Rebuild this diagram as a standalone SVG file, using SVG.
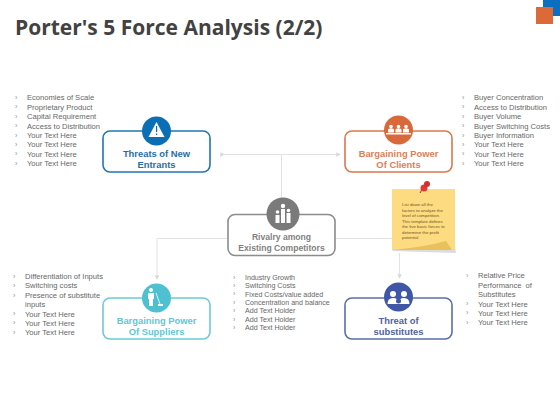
<svg xmlns="http://www.w3.org/2000/svg" width="560" height="420" viewBox="0 0 560 420">
<style>
text{font-family:"Liberation Sans",Arial,sans-serif}
.title{font-family:"Open Sans","Liberation Sans",sans-serif;font-size:21px;font-weight:700;fill:#404040;opacity:.99}
.list{font-size:7.600px;fill:#666;opacity:.99}
.bul{font-size:7px;fill:#8c8c8c;opacity:.99}
.lab{font-size:9.400px;font-weight:700;text-anchor:middle;opacity:.99}
.box{fill:#fff;stroke-width:1.6}
.conn{fill:none;stroke:#e2e2e2;stroke-width:1}
.ic{fill:#fff}
</style>
<defs>
<marker id="a" viewBox="0 0 6 6" refX="5" refY="3" markerWidth="4.500" markerHeight="4.500" orient="auto"><path d="M0 0L6 3L0 6z" fill="#d8d8d8"/></marker>
</defs>
<rect width="560" height="420" fill="#fff"/>
<rect x="543" y="0" width="17" height="16" fill="#0b6fc0"/>
<rect x="536" y="7" width="17" height="17" fill="#dc6a39"/>
<text x="15" y="34.500" class="title">Porter's 5 Force Analysis (2/2)</text>
<g id="connectors">
<path class="conn" marker-start="url(#a)" marker-end="url(#a)" d="M224 154.500H340"/>
<path class="conn" d="M281.500 155V198"/>
<path class="conn" marker-end="url(#a)" d="M227 238.500H157V279"/>
<path class="conn" d="M336 238.500H392"/>
<path class="conn" marker-end="url(#a)" d="M399.500 253V278"/>
</g>
<g id="threats">
<rect class="box" x="103" y="131" width="107" height="41" rx="7" stroke="#1f77b4"/>
<circle cx="156.500" cy="131" r="14.500" fill="#0b6fb8"/>
<path class="ic" d="M156.500 122L164.500 137H148.500z"/>
<rect x="156" y="126" width="1.200" height="6" fill="#0b6fb8"/><rect x="156" y="133.500" width="1.200" height="1.500" fill="#0b6fb8"/>
<text class="lab" fill="#1f6ea8" x="156.500" y="157">Threats of New</text>
<text class="lab" fill="#1f6ea8" x="156.500" y="168">Entrants</text>
</g>
<g id="clients">
<rect class="box" x="345" y="131" width="107" height="41" rx="7" stroke="#d9784e"/>
<circle cx="398.500" cy="130" r="14.500" fill="#d9693a"/>
<path class="ic" d="M386 133h25v1.500h-25z"/>
<circle class="ic" cx="391" cy="126.500" r="1.800"/><circle class="ic" cx="398.500" cy="126.500" r="1.800"/><circle class="ic" cx="406" cy="126.500" r="1.800"/>
<path class="ic" d="M388 132.500v-2.500q0-1.800 3-1.800t3 1.800v2.500zM395.500 132.500v-2.500q0-1.800 3-1.800t3 1.800v2.500zM403 132.500v-2.500q0-1.800 3-1.800t3 1.800v2.500z"/>
<text class="lab" fill="#dc7e55" x="398.500" y="157">Bargaining Power</text>
<text class="lab" fill="#dc7e55" x="398.500" y="168">Of Clients</text>
</g>
<g id="rivalry">
<rect class="box" x="228" y="214.500" width="107" height="41" rx="7" stroke="#8c8c8c"/>
<circle cx="283" cy="214" r="16.500" fill="#7a7a7a"/>
<path class="ic" d="M281 209h4v14h-4zM275.500 215h4v8h-4zM286.500 213h4v10h-4z"/>
<circle class="ic" cx="283" cy="206" r="2.200"/><circle class="ic" cx="277.500" cy="212" r="1.800"/><circle class="ic" cx="288.500" cy="210.500" r="1.800"/>
<text class="lab" style="font-size:8.600px" fill="#7f7f7f" x="281.500" y="240">Rivalry among</text>
<text class="lab" style="font-size:8.600px" fill="#7f7f7f" x="281.500" y="251">Existing Competitors</text>
</g>
<g id="suppliers">
<rect class="box" x="103" y="298" width="107" height="41" rx="7" stroke="#6ccbd8"/>
<circle cx="156.500" cy="298" r="14.500" fill="#4fc0d2"/>
<circle class="ic" cx="151" cy="290" r="2"/><path class="ic" d="M148 293h6v6h-1v7h-4v-7h-1z"/>
<path d="M156 293L160 304" stroke="#fff" stroke-width=".8"/><path class="ic" d="M158 304h5v2h-5z"/>
<text class="lab" fill="#62c6d6" x="156.500" y="323.500">Bargaining Power</text>
<text class="lab" fill="#62c6d6" x="156.500" y="335">Of Suppliers</text>
</g>
<g id="substitutes">
<rect class="box" x="345" y="298" width="107" height="41" rx="7" stroke="#5b6ea8"/>
<circle cx="398.500" cy="297" r="14.500" fill="#3f57a6"/>
<circle class="ic" cx="393" cy="294" r="3"/><circle class="ic" cx="404" cy="294" r="3"/>
<path class="ic" d="M387.500 304q0-6 5.500-6t5.500 5.500q0-5.500 5.500-5.500t5.500 6z"/>
<circle cx="398.500" cy="301" r="2.500" fill="#3f57a6"/>
<text class="lab" fill="#4f6299" x="398.500" y="323.500">Threat of</text>
<text class="lab" fill="#4f6299" x="398.500" y="335">substitutes</text>
</g>
<g id="note">
<path d="M394 249L455 246L456 253L392 251z" fill="#dcdcdc"/>
<path d="M392 189H455V250H392z" fill="#fddb80"/>
<path d="M392 250Q425 247 446 241L452 250z" fill="#e8c15c"/>
<path d="M420 193L424 186" stroke="#a33" stroke-width="1"/>
<circle cx="424" cy="188" r="3.500" fill="#e03a36"/><circle cx="427" cy="184" r="3" fill="#d32f2f"/>
<g font-size="4.300" fill="#6b5826" opacity=".99">
<text x="402" y="206">List down all the</text>
<text x="402" y="211.500">factors to analyze the</text>
<text x="402" y="217">level of competition.</text>
<text x="402" y="222.500">This template defines</text>
<text x="402" y="228">the five basic forces to</text>
<text x="402" y="233.500">determine the profit</text>
<text x="402" y="239">potential.</text>
</g>
</g>
<g id="list-tl">
<g class="bul"><text x="15" y="100">›</text><text x="15" y="109">›</text><text x="15" y="119">›</text><text x="15" y="128">›</text><text x="15" y="138">›</text><text x="15" y="147">›</text><text x="15" y="156">›</text><text x="15" y="166">›</text></g>
<g class="list"><text x="27" y="100">Economies of Scale</text><text x="27" y="110">Proprietary Product</text><text x="27" y="119">Capital Requirement</text><text x="27" y="128.500">Access to Distribution</text><text x="27" y="138">Your Text Here</text><text x="27" y="147">Your Text Here</text><text x="27" y="156.500">Your Text Here</text><text x="27" y="166">Your Text Here</text></g>
</g>
<g id="list-tr">
<g class="bul"><text x="462" y="100">›</text><text x="462" y="109">›</text><text x="462" y="119">›</text><text x="462" y="128">›</text><text x="462" y="138">›</text><text x="462" y="147">›</text><text x="462" y="156">›</text><text x="462" y="166">›</text></g>
<g class="list"><text x="474" y="100">Buyer Concentration</text><text x="474" y="110">Access to Distribution</text><text x="474" y="119">Buyer Volume</text><text x="474" y="128.500">Buyer Switching Costs</text><text x="474" y="138">Buyer Information</text><text x="474" y="147">Your Text Here</text><text x="474" y="156.500">Your Text Here</text><text x="474" y="166">Your Text Here</text></g>
</g>
<g id="list-bl">
<g class="bul"><text x="13" y="279">›</text><text x="13" y="288">›</text><text x="13" y="298">›</text><text x="13" y="316">›</text><text x="13" y="325">›</text><text x="13" y="335">›</text></g>
<g class="list"><text x="25" y="279">Differentiation of Inputs</text><text x="25" y="288">Switching costs</text><text x="25" y="298">Presence of substitute</text><text x="25" y="307">inputs</text><text x="25" y="316.500">Your Text Here</text><text x="25" y="326">Your Text Here</text><text x="25" y="335">Your Text Here</text></g>
</g>
<g id="list-bm">
<g class="bul"><text x="233" y="280">›</text><text x="233" y="288">›</text><text x="233" y="296">›</text><text x="233" y="305">›</text><text x="233" y="313">›</text><text x="233" y="322">›</text><text x="233" y="330">›</text></g>
<g class="list" style="font-size:7.100px"><text x="245" y="280">Industry Growth</text><text x="245" y="288">Switching Costs</text><text x="245" y="296.500">Fixed Costs/value added</text><text x="245" y="305">Concentration and balance</text><text x="245" y="313">Add Text Holder</text><text x="245" y="322">Add Text Holder</text><text x="245" y="330">Add Text Holder</text></g>
</g>
<g id="list-br">
<g class="bul"><text x="466" y="278">›</text><text x="466" y="306">›</text><text x="466" y="315">›</text><text x="466" y="325">›</text></g>
<g class="list"><text x="478" y="278">Relative Price</text><text x="478" y="288" word-spacing="2">Performance of</text><text x="478" y="297">Substitutes</text><text x="478" y="306.500">Your Text Here</text><text x="478" y="316">Your Text Here</text><text x="478" y="325">Your Text Here</text></g>
</g>
</svg>
